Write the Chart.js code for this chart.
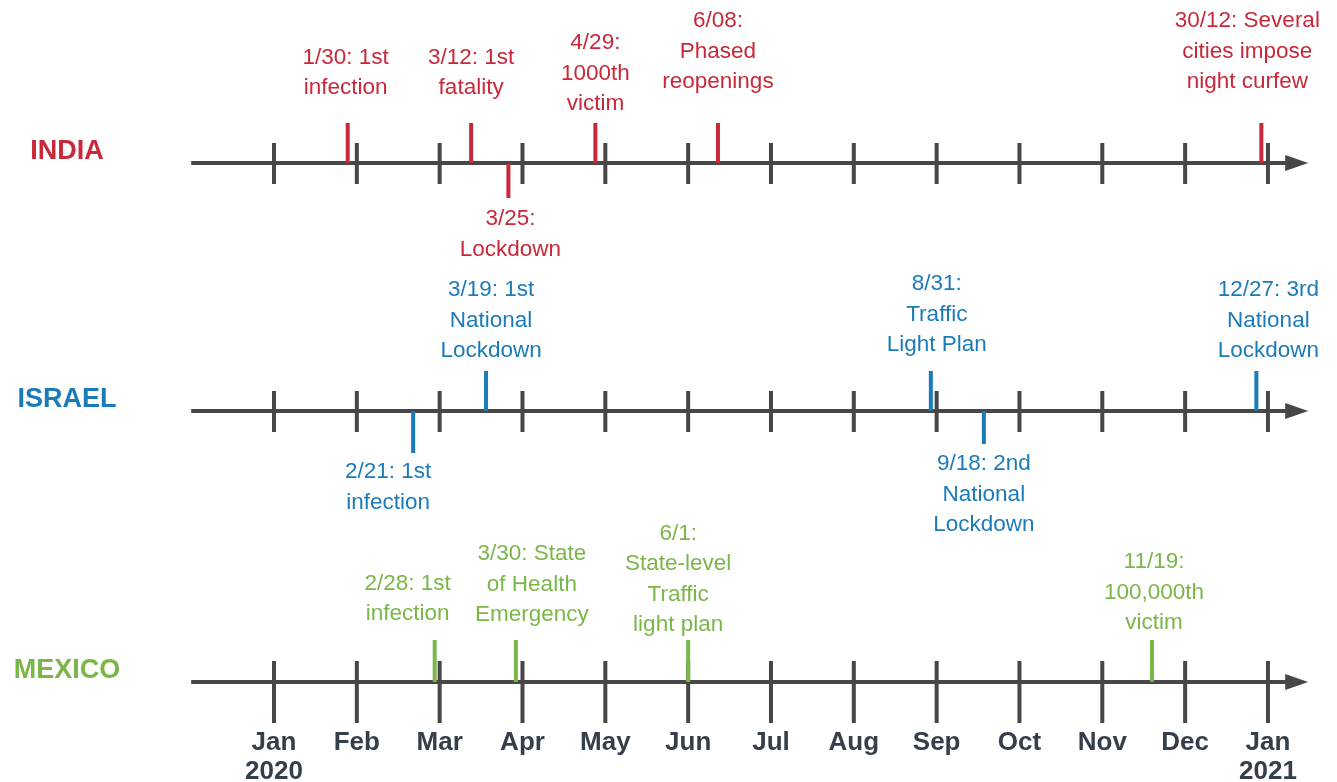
<!DOCTYPE html>
<html>
<head>
<meta charset="utf-8">
<script src="https://cdn.jsdelivr.net/npm/chart.js@4/dist/chart.umd.min.js"></script>
<style>
html,body{margin:0;padding:0;background:#ffffff;}
#wrap{width:1337px;height:782px;position:relative;}
</style>
</head>
<body>
<div id="wrap"><canvas id="c"></canvas></div>
<script>
// ---------------- DATA ----------------
const months = ['Jan','Feb','Mar','Apr','May','Jun','Jul','Aug','Sep','Oct','Nov','Dec','Jan'];
const monthYears = ['2020','','','','','','','','','','','','2021'];
const countries = ['INDIA','ISRAEL','MEXICO'];

// event positions, in months after 1 Jan 2020 (as placed on the timeline)
const indiaPos  = [0.89, 2.38, 2.83, 3.88, 5.36, 11.92];
const indiaSide = ['up','up','down','up','up','up'];
const indiaText = [
  ['1/30: 1st','infection'],
  ['3/12: 1st','fatality'],
  ['3/25:','Lockdown'],
  ['4/29:','1000th','victim'],
  ['6/08:','Phased','reopenings'],
  ['30/12: Several','cities impose','night curfew']
];

const israelPos  = [1.68, 2.56, 7.93, 8.57, 11.86];
const israelSide = ['down','up','up','down','up'];
const israelText = [
  ['2/21: 1st','infection'],
  ['3/19: 1st','National','Lockdown'],
  ['8/31:','Traffic','Light Plan'],
  ['9/18: 2nd','National','Lockdown'],
  ['12/27: 3rd','National','Lockdown']
];

const mexicoPos  = [1.94, 2.92, 5.00, 10.60];
const mexicoSide = ['up','up','up','up'];
const mexicoText = [
  ['2/28: 1st','infection'],
  ['3/30: State','of Health','Emergency'],
  ['6/1:','State-level','Traffic','light plan'],
  ['11/19:','100,000th','victim']
];

// ---------------- LAYOUT / STYLE ----------------
const COLORS = ['#c9283a', '#1b7bb9', '#7ab648'];
const GREY = '#474747';
const MONTH_COLOR = '#343f4b';
const ROW_BASE = [163, 411, 682];             // y-scale units (pixels from top)
const TICK_UP = [20, 20, 21];
const TICK_DOWN = [21, 21, 41];
const MARK_UP = [40, 40, 42];
const MARK_DOWN = [35, [42, 33], 0];
const AXIS_START = -1.0, AXIS_END = 12.22, ARROW_LEN = 22, ARROW_HALF = 8;
const LH = 30.5;
const FONT = '"Liberation Sans", Arial, sans-serif';
// label nudges (px): horizontal offset from marker, vertical gap from axis
const LABEL_DX = [[-2,0,2,0,0,-14],[-25,5,6,0,12],[-27,16,-10,2]];
const LABEL_GAP = [[75,75,56,59,81,81],[61,60,66,53,60],[68,67,57,59]];

const rows = [
  {name: countries[0], pos: indiaPos,  side: indiaSide,  text: indiaText},
  {name: countries[1], pos: israelPos, side: israelSide, text: israelText},
  {name: countries[2], pos: mexicoPos, side: mexicoSide, text: mexicoText}
];

function markDown(r, k){
  const v = MARK_DOWN[r];
  return Array.isArray(v) ? v[rows[r].side.slice(0,k+1).filter(s=>s==='down').length-1] : v;
}

const datasets = [];
rows.forEach((row, r) => {
  const base = ROW_BASE[r];
  // main axis line
  datasets.push({
    data: [{x: AXIS_START, y: base}, {x: AXIS_END, y: base}],
    borderColor: GREY, borderWidth: 4, order: 3
  });
  // month ticks
  const tk = [];
  months.forEach((m, i) => {
    tk.push({x: i, y: base - TICK_UP[r]}, {x: i, y: base + TICK_DOWN[r]}, {x: i, y: null});
  });
  datasets.push({data: tk, borderColor: GREY, borderWidth: 4, order: 2});
  // event markers
  const ev = [];
  row.pos.forEach((p, k) => {
    const up = row.side[k] === 'up';
    ev.push({x: p, y: base}, {x: p, y: up ? base - MARK_UP[r] : base + markDown(r, k)}, {x: p, y: null});
  });
  datasets.push({data: ev, borderColor: COLORS[r], borderWidth: 4, order: 1});
});

const labelsPlugin = {
  id: 'timelineLabels',
  afterDatasetsDraw(chart) {
    const {ctx, scales: {x, y}} = chart;
    ctx.save();
    ctx.textAlign = 'center';
    ctx.textBaseline = 'middle';
    rows.forEach((row, r) => {
      const yb = y.getPixelForValue(ROW_BASE[r]);
      // arrow head
      const xa = x.getPixelForValue(AXIS_END);
      ctx.fillStyle = GREY;
      ctx.beginPath();
      ctx.moveTo(xa - 1, yb - ARROW_HALF);
      ctx.lineTo(xa + ARROW_LEN, yb);
      ctx.lineTo(xa - 1, yb + ARROW_HALF);
      ctx.closePath();
      ctx.fill();
      // row name
      ctx.fillStyle = COLORS[r];
      ctx.font = 'bold 27px ' + FONT;
      ctx.fillText(row.name, 67, yb - 11);
      // event labels
      ctx.font = '22.5px ' + FONT;
      row.pos.forEach((p, k) => {
        const lines = row.text[k];
        const cx = x.getPixelForValue(p) + LABEL_DX[r][k];
        const gap = LABEL_GAP[r][k];
        const n = lines.length;
        lines.forEach((t, i) => {
          const ty = row.side[k] === 'up' ? yb - gap - (n - 1 - i) * LH : yb + gap + i * LH;
          ctx.fillText(t, cx, ty);
        });
      });
    });
    // month labels
    ctx.fillStyle = MONTH_COLOR;
    ctx.font = 'bold 26px ' + FONT;
    months.forEach((m, i) => {
      const cx = x.getPixelForValue(i);
      ctx.fillText(m, cx, 743);
      if (monthYears[i]) ctx.fillText(monthYears[i], cx, 772);
    });
    ctx.restore();
  }
};

const PX_PER_MONTH = 82.83, JAN_PX = 274;
new Chart(document.getElementById('c'), {
  type: 'line',
  data: {datasets},
  options: {
    responsive: true,
    maintainAspectRatio: false,
    animation: false,
    layout: {padding: 0},
    spanGaps: false,
    elements: {point: {radius: 0, hoverRadius: 0}, line: {borderCapStyle: 'butt', tension: 0}},
    plugins: {legend: {display: false}, tooltip: {enabled: false}},
    scales: {
      x: {type: 'linear', display: false, min: -JAN_PX / PX_PER_MONTH, max: (1337 - JAN_PX) / PX_PER_MONTH},
      y: {type: 'linear', display: false, min: 0, max: 782, reverse: true}
    }
  },
  plugins: [labelsPlugin]
});
</script>
</body>
</html>
